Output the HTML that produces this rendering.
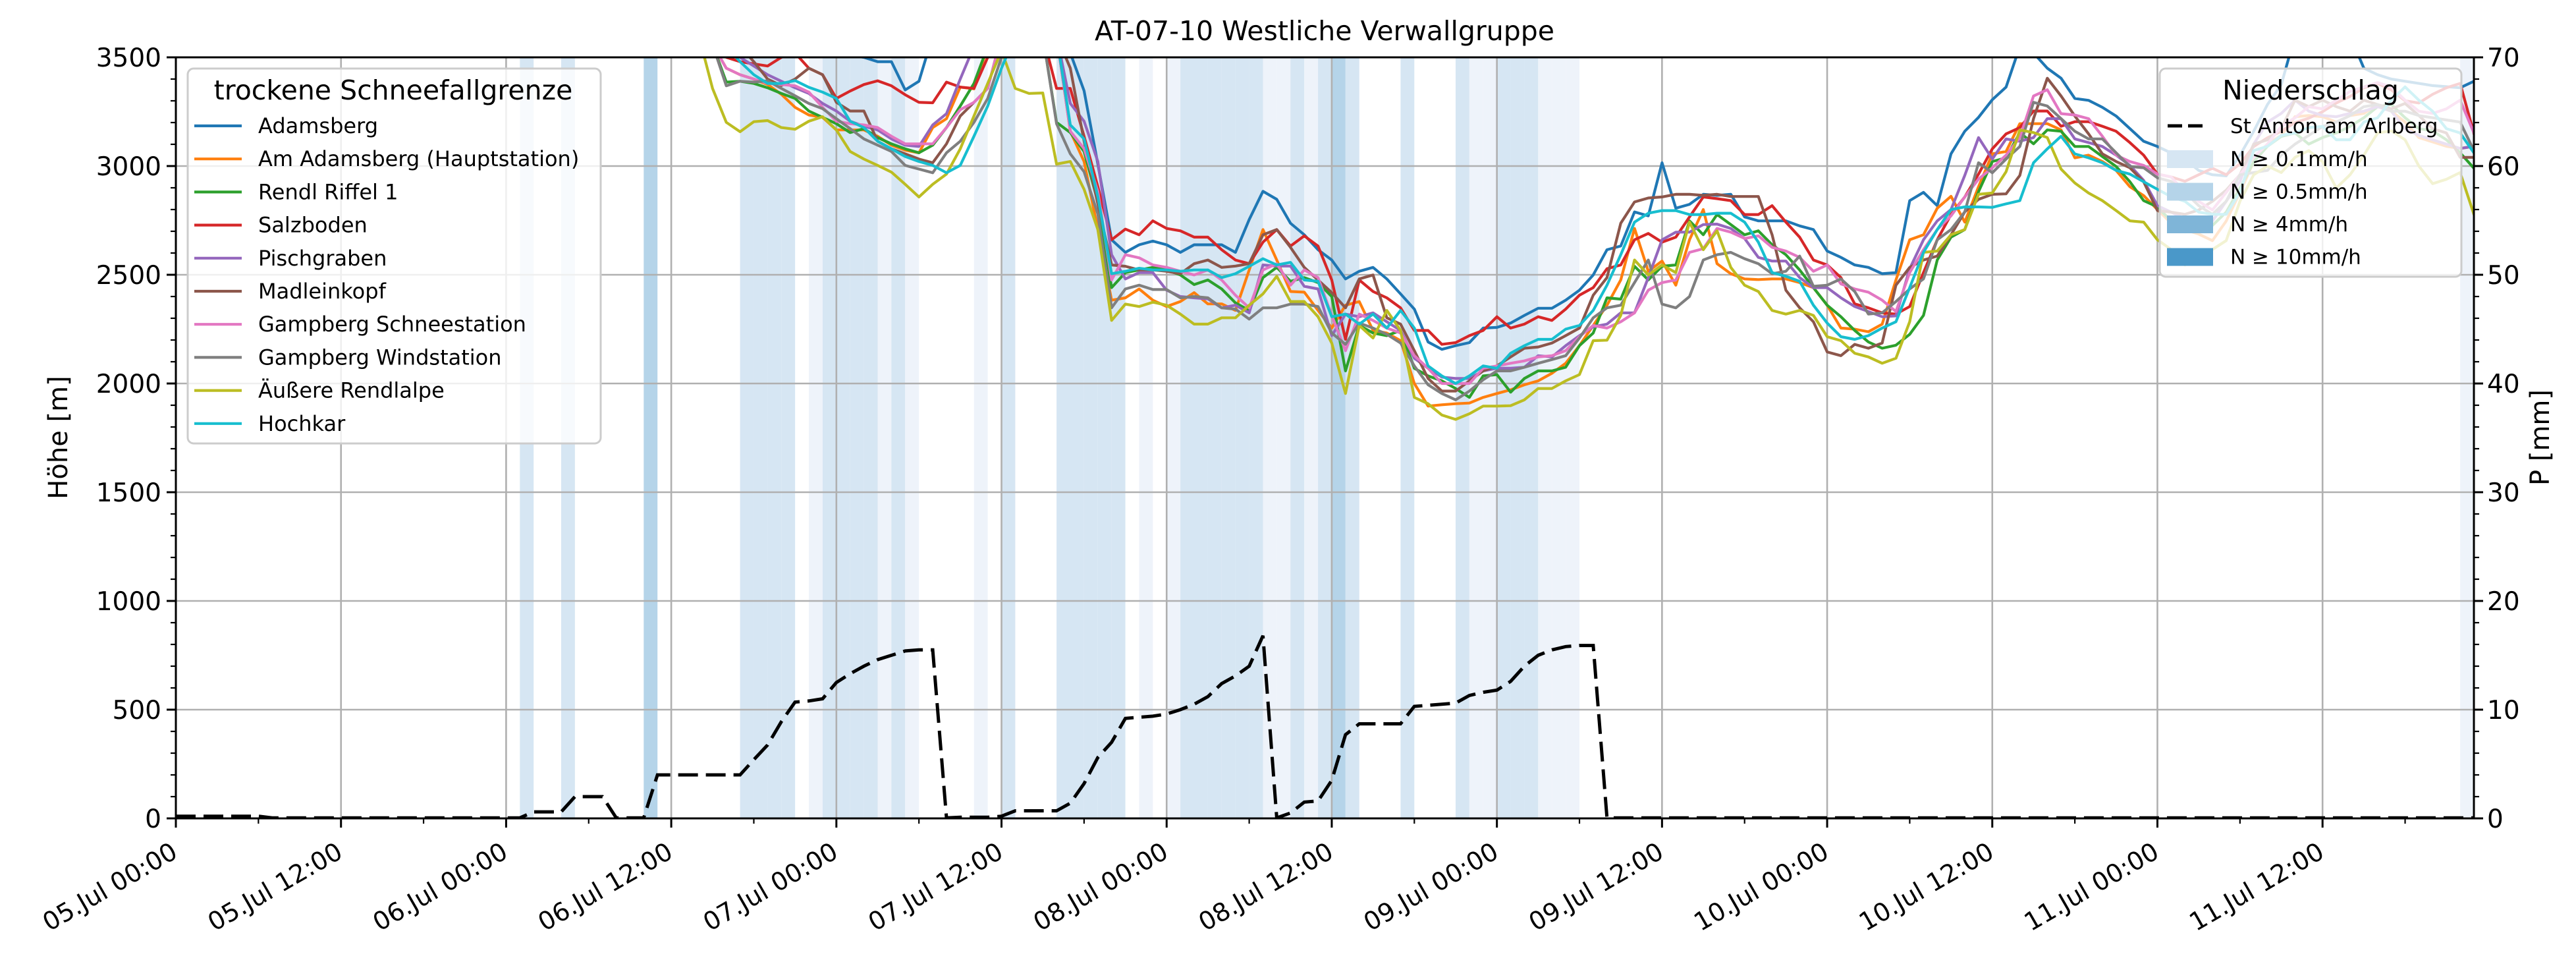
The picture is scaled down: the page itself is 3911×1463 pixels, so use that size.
<!DOCTYPE html>
<html><head><meta charset="utf-8"><style>
html,body{margin:0;padding:0;background:#fff;}
svg{display:block;font-family:"DejaVu Sans","Liberation Sans",sans-serif;}
</style></head><body>
<svg id="chart" width="3911" height="1463" viewBox="0 0 3911 1463" xmlns="http://www.w3.org/2000/svg">
<defs><clipPath id="plotclip"><rect x="267" y="87" width="3489" height="1155"/></clipPath></defs>
<rect width="3911" height="1463" fill="#fff"/>
<text x="2011" y="61" font-size="41" text-anchor="middle">AT-07-10 Westliche Verwallgruppe</text>
<g id="bands" clip-path="url(#plotclip)"></g>
<g id="grid"></g>
<g id="series" clip-path="url(#plotclip)"></g>
<g id="axes"></g>
<g id="legends"></g>
</svg>
<script>
const startHour = 36;
const xTickLabels = ["05.Jul 00:00","05.Jul 12:00","06.Jul 00:00","06.Jul 12:00","07.Jul 00:00","07.Jul 12:00","08.Jul 00:00","08.Jul 12:00","09.Jul 00:00","09.Jul 12:00","10.Jul 00:00","10.Jul 12:00","11.Jul 00:00","11.Jul 12:00"];
const yTicksLeft = [0,500,1000,1500,2000,2500,3000,3500];
const yTicksRight = [0,10,20,30,40,50,60,70];
const seriesNames = ["Adamsberg","Am Adamsberg (Hauptstation)","Rendl Riffel 1","Salzboden","Pischgraben","Madleinkopf","Gampberg Schneestation","Gampberg Windstation","Äußere Rendlalpe","Hochkar"];
const seriesColors = ["#1f77b4","#ff7f0e","#2ca02c","#d62728","#9467bd","#8c564b","#e377c2","#7f7f7f","#bcbd22","#17becf"];
const adamsberg = [3600,3600,3600,3600,
3600,3600,3550,3520,3600,3600,3600,3600,3550,3510,
3500,3480,3480,3350,3390,3600,3600,3600,3600,3600,
3600,3600,3600,3600,3600,3520,3346,3009,2661,2603,
2638,2655,2638,2603,2638,2638,2638,2603,2754,2884,
2847,2737,2684,2615,2568,2481,2516,2534,2481,2412,
2342,2191,2157,2174,2188,2255,2258,2278,2313,2346,
2346,2383,2429,2499,2615,2632,2789,2771,3015,2806,
2824,2870,2865,2870,2766,2748,2748,2748,2725,2708,
2609,2580,2545,2534,2505,2510,2841,2879,2818,3056,
3160,3224,3305,3363,3550,3520,3450,3404,3311,3302,
3270,3230,3172,3114,3090,3060,3030,2980,2960,2955,
3050,3160,3283,3374,3600,3600,3600,3600,3600,3450,
3420,3400,3390,3380,3370,3365,3360,3390];
const amAdamsberg = [3600,3600,3600,3560,
3450,3420,3400,3375,3330,3270,3235,3224,3166,3166,
3166,3137,3096,3073,3061,3177,3218,3363,3355,3550,
3600,3600,3600,3600,3600,3160,3021,2708,2383,2394,
2435,2383,2354,2377,2418,2366,2366,2336,2522,2708,
2568,2423,2420,2336,2255,2360,2377,2244,2232,2197,
2000,1896,1902,1907,1910,1936,1954,1971,1994,2012,
2047,2093,2174,2267,2360,2476,2713,2516,2563,2452,
2661,2800,2551,2505,2481,2478,2481,2481,2464,2441,
2360,2255,2250,2238,2273,2476,2661,2684,2806,2861,
2742,2905,3056,3067,3195,3195,3195,3166,3038,3050,
3021,2980,2905,2864,2800,2737,2707,2687,2657,2747,
2879,3020,3101,3141,3227,3232,3227,3202,3232,3242,
3283,3252,3202,3131,3111,3091,3081,3091];
const rendlRiffel = [3600,3600,3600,3560,
3386,3390,3380,3360,3334,3311,3253,3224,3195,3154,
3172,3131,3102,3079,3061,3096,3177,3276,3380,3550,
3600,3600,3600,3600,3201,3154,3067,2836,2441,2510,
2522,2534,2522,2499,2455,2476,2435,2371,2336,2487,
2534,2470,2487,2464,2400,2058,2267,2232,2220,2244,
2070,2035,2012,1977,1936,2035,2041,1960,2023,2058,
2058,2075,2174,2232,2394,2388,2539,2476,2539,2545,
2748,2684,2777,2731,2684,2702,2638,2592,2522,2441,
2360,2307,2244,2191,2162,2176,2226,2313,2568,2673,
2708,2882,3021,3038,3154,3102,3166,3160,3090,3090,
3044,2998,2928,2841,2812,2747,2697,2707,2727,2788,
2899,3020,3091,3136,3152,3101,3131,3152,3182,3222,
3273,3283,3222,3172,3162,3121,3061,2990];
const salzboden = [3600,3600,3600,3560,
3500,3480,3470,3460,3500,3520,3450,3420,3311,3345,
3375,3392,3369,3328,3293,3291,3386,3363,3357,3500,
3600,3600,3600,3600,3357,3357,3137,2905,2661,2710,
2684,2748,2713,2702,2673,2673,2615,2568,2551,2650,
2708,2632,2679,2632,2476,2203,2476,2423,2394,2348,
2244,2244,2180,2188,2220,2244,2307,2255,2273,2307,
2290,2342,2406,2441,2528,2545,2661,2690,2650,2673,
2766,2858,2850,2841,2777,2777,2818,2742,2673,2568,
2545,2487,2366,2348,2325,2319,2354,2510,2661,2777,
2858,2963,3079,3148,3177,3253,3253,3183,3204,3204,
3183,3160,3108,3050,2963,2950,2930,2960,2990,2960,
3010,3090,3130,3160,3200,3220,3250,3290,3320,3360,
3380,3350,3300,3290,3330,3360,3380,3150];
const pischgraben = [3600,3600,3600,3560,
3550,3500,3460,3420,3390,3360,3334,3288,3253,3206,
3183,3166,3125,3096,3090,3189,3241,3400,3550,3600,
3600,3600,3600,3600,3600,3288,3206,3021,2592,2481,
2510,2510,2429,2400,2394,2389,2348,2360,2325,2545,
2540,2540,2447,2435,2220,2319,2307,2325,2284,2244,
2116,2070,2029,2023,2023,2058,2070,2070,2075,2128,
2122,2174,2220,2261,2273,2325,2325,2487,2661,2696,
2696,2731,2733,2713,2667,2580,2563,2563,2487,2441,
2441,2394,2354,2331,2307,2311,2528,2661,2748,2800,
2957,3131,3032,3125,3114,3131,3218,3218,3125,3108,
3090,3050,3003,2934,2818,2788,2758,2747,2747,2838,
2929,3101,3202,3242,3303,3252,3232,3227,3242,3252,
3273,3252,3172,3141,3121,3101,3081,3091];
const madleinkopf = [3600,3600,3600,3600,
3600,3550,3480,3400,3370,3400,3450,3420,3293,3253,
3253,3114,3079,3056,3032,3015,3102,3230,3293,3357,
3600,3600,3600,3600,3600,3450,3114,2826,2545,2539,
2522,2522,2516,2505,2551,2568,2534,2540,2551,2684,
2708,2626,2534,2476,2418,2348,2481,2499,2302,2273,
2151,2023,1965,1965,2012,2058,2081,2122,2162,2168,
2186,2220,2255,2406,2487,2737,2835,2853,2858,2870,
2870,2865,2870,2860,2860,2860,2684,2429,2348,2284,
2145,2128,2180,2162,2186,2452,2534,2568,2586,2684,
2789,2847,2870,2872,2957,3218,3404,3322,3230,3148,
3056,3021,2992,2928,2795,2788,2778,2798,2838,2889,
2960,3101,3121,3172,3303,3273,3303,3273,3252,3303,
3283,3263,3288,3232,3172,3152,3040,3040];
const gampbergSchnee = [3600,3600,3600,3560,
3450,3420,3400,3380,3375,3369,3340,3270,3206,3195,
3189,3177,3137,3102,3102,3102,3177,3259,3293,3357,
3600,3600,3600,3600,3600,3160,3080,2883,2476,2592,
2578,2545,2534,2516,2499,2522,2476,2406,2348,2522,
2551,2452,2522,2487,2313,2151,2319,2290,2255,2232,
2128,2070,2000,2000,2000,2070,2081,2093,2104,2122,
2128,2151,2215,2267,2255,2284,2325,2429,2464,2476,
2603,2620,2713,2696,2667,2679,2626,2609,2580,2516,
2545,2458,2435,2420,2383,2331,2510,2615,2708,2771,
2858,2940,2992,3050,3131,3322,3351,3241,3235,3218,
3137,3050,3021,3003,2963,2950,2879,2838,2798,2879,
2960,3040,3101,3182,3222,3273,3263,3303,3343,3364,
3384,3364,3303,3252,3242,3263,3303,3152];
const gampbergWind = [3600,3600,3600,3560,
3369,3390,3386,3392,3357,3323,3288,3264,3218,3172,
3125,3096,3067,3003,2986,2969,3061,3114,3201,3311,
3500,3600,3600,3600,3195,3056,2974,2779,2348,2435,
2452,2432,2432,2394,2400,2394,2348,2342,2296,2348,
2348,2365,2365,2354,2232,2180,2278,2255,2226,2186,
2081,1994,1954,1925,1965,2017,2058,2058,2075,2093,
2110,2128,2209,2302,2348,2360,2464,2568,2365,2348,
2400,2568,2592,2603,2574,2551,2505,2516,2586,2447,
2452,2481,2423,2319,2325,2377,2435,2481,2661,2708,
2789,3015,2969,3032,3090,3293,3276,3218,3160,3125,
3125,3061,2998,2992,2946,2929,2879,2818,2778,2838,
2960,2970,2980,3050,3101,3141,3182,3202,3232,3273,
3283,3252,3252,3232,3222,3212,3202,3071];
const aeussereRendlalpe = [3600,3600,3600,3357,
3201,3158,3204,3209,3177,3169,3206,3227,3166,3067,
3032,3003,2972,2916,2858,2916,2963,3079,3230,3380,
3530,3357,3334,3336,3009,3021,2893,2708,2290,2365,
2354,2374,2360,2319,2273,2273,2302,2302,2360,2412,
2493,2377,2377,2307,2186,1954,2267,2209,2336,2244,
1936,1907,1855,1835,1861,1896,1896,1898,1925,1977,
1977,2012,2041,2197,2199,2313,2568,2499,2545,2510,
2742,2615,2702,2534,2452,2423,2336,2319,2336,2313,
2215,2197,2139,2122,2093,2116,2284,2603,2609,2684,
2708,2870,2876,2974,3166,3154,3131,2986,2922,2876,
2841,2795,2748,2742,2661,2616,2545,2576,2616,2657,
2838,2960,3000,2970,3040,3071,3020,2899,2960,3050,
3152,3162,3121,3000,2919,2939,2970,2778];
const hochkar = [3600,3600,3600,3600,
3550,3480,3420,3380,3380,3393,3362,3340,3311,3206,
3177,3114,3079,3044,3021,3003,2969,3003,3137,3276,
3450,3600,3600,3600,3600,3189,3125,2859,2505,2516,
2530,2522,2522,2516,2522,2522,2487,2505,2539,2574,
2545,2557,2476,2470,2307,2319,2273,2319,2255,2336,
2255,2081,2035,2000,2035,2081,2070,2139,2174,2203,
2203,2250,2267,2336,2452,2592,2742,2783,2795,2795,
2777,2777,2783,2783,2742,2650,2510,2493,2470,2360,
2278,2215,2203,2220,2255,2284,2441,2603,2708,2800,
2812,2812,2810,2826,2841,3015,3079,3137,3056,3038,
3015,2980,2963,2928,2893,2859,2838,2788,2778,2778,
2879,3071,3091,3141,3152,3177,3182,3121,3121,3202,
3222,3303,3364,3303,3252,3172,3152,3061];
const precipStAnton = [
0.2,0.2,0.2,0.2,0.2,0.2,0.2,0.05,0.05,0.05,
0.05,0.05,0.05,0.05,0.05,0.05,0.05,0.05,0.05,0.05,
0.05,0.05,0.05,0.05,0.05,0.05,0.6,0.6,0.6,2.0,
2.0,2.0,0.05,0.05,0.05,4.0,4.0,4.0,4.0,4.0,
4.0,4.0,5.4,6.75,8.9,10.7,10.8,11.0,12.5,13.3,
14.0,14.6,15.0,15.4,15.5,15.5,0.05,0.1,0.1,0.1,
0.2,0.7,0.7,0.7,0.7,1.4,3.2,5.6,7.0,9.2,
9.3,9.4,9.6,10.0,10.5,11.2,12.4,13.1,14.0,16.8,
0.05,0.5,1.5,1.6,3.5,7.7,8.7,8.7,8.7,8.7,
10.3,10.4,10.5,10.6,11.3,11.6,11.8,12.6,14.0,15.0,
15.5,15.8,15.9,15.9,0.05,0.05,0.05,0.05,0.05,0.05,
0.05,0.05,0.05,0.05,0.05,0.05,0.05,0.05,0.05,0.05,
0.05,0.05,0.05,0.05,0.05,0.05,0.05,0.05,0.05,0.05,
0.05,0.05,0.05,0.05,0.05,0.05,0.05,0.05,0.05,0.05,
0.05,0.05,0.05,0.05,0.05,0.05,0.05,0.05,0.05,0.05,
0.05,0.05,0.05,0.05,0.05,0.05,0.05,0.05,0.05,0.05,
0.05,0.05,0.05,0.05,0.05,0.05,0.05,0.05];
const rainClass = [
0,0,0,0,0,0,0,0,0,0,
0,0,0,0,0,0,0,0,0,0,
0,0,0,0,0,2,0,0,2,0,
0,0,0,0,3,0,0,0,0,0,
0,2,2,2,2,0,1,2,2,2,
2,1,2,1,0,0,0,0,1,0,
2,0,0,0,2,2,2,2,2,0,
1,0,1,2,2,2,2,2,2,1,
1,2,1,2,3,2,0,0,0,2,
0,0,0,2,1,1,2,2,2,1,
1,1,0,0,0,0,0,0,0,0,
0,0,0,0,0,0,0,0,0,0,
0,0,0,0,0,0,0,0,0,0,
0,0,0,0,0,0,0,0,0,0,
0,0,0,0,0,0,0,0,0,0,
0,0,0,0,0,0,0,0,0,0,
0,0,0,0,0,0,1,1];
const precipLegendLabels = ["N ≥ 0.1mm/h","N ≥ 0.5mm/h","N ≥ 4mm/h","N ≥ 10mm/h"];

const allSeries = [adamsberg,amAdamsberg,rendlRiffel,salzboden,pischgraben,madleinkopf,gampbergSchnee,gampbergWind,aeussereRendlalpe,hochkar];
const bandColors = ["none","#eef3fa","#d6e6f3","#b5d4e9","#7fb5d8","#4a98c9"];
const NS = "http://www.w3.org/2000/svg";
const X0 = 267, X1 = 3756, Y0 = 1242, Y1 = 87, HMAX = 167;
function xScale(h){ return X0 + h*(X1-X0)/HMAX; }
function yScale(m){ return Y0 - m*(Y0-Y1)/3500; }
function pScale(p){ return Y0 - p*(Y0-Y1)/70; }
function el(tag, attrs, parent){ const e=document.createElementNS(NS,tag); for(const k in attrs) e.setAttribute(k,attrs[k]); parent.appendChild(e); return e; }

const gB = document.getElementById('bands');
rainClass.forEach((c,h)=>{
  if(!c) return;
  const r = el('rect',{x:xScale(h),y:Y1,width:xScale(h+1)-xScale(h),height:Y0-Y1,fill:bandColors[c]},gB);
  
  
});
const gG = document.getElementById('grid');
xTickLabels.forEach((t,i)=>{ const x=xScale(i*12); const l=el('line',{x1:x,x2:x,y1:Y1,y2:Y0,stroke:'#b0b0b0','stroke-width':2.6},gG);
    });
yTicksLeft.forEach(v=>{ const y=yScale(v); const l=el('line',{x1:X0,x2:X1,y1:y,y2:y,stroke:'#b0b0b0','stroke-width':2.6},gG);
    });
const gS = document.getElementById('series');
allSeries.forEach((arr,i)=>{
  const pts = arr.map((v,j)=>xScale(startHour+j).toFixed(1)+','+yScale(v).toFixed(1)).join(' ');
  const p = el('polyline',{points:pts,fill:'none',stroke:seriesColors[i],'stroke-width':4.2,'stroke-linejoin':'round','stroke-linecap':'square'},gS);
  
  
});
const ppts = precipStAnton.map((v,h)=>xScale(h).toFixed(1)+','+pScale(v).toFixed(1)).join(' ');
const pl = el('polyline',{points:ppts,fill:'none',stroke:'#000','stroke-width':5,'stroke-dasharray':'30 12'},gS);


const gA = document.getElementById('axes');
el('rect',{x:X0,y:Y1,width:X1-X0,height:Y0-Y1,fill:'none',stroke:'#000','stroke-width':3},gA);
for(let m=0;m<=3500;m+=100){ const y=yScale(m); const major=m%500===0;
  el('line',{x1:X0-(major?14:8),x2:X0,y1:y,y2:y,stroke:'#000','stroke-width':major?3:2.2},gA); }
yTicksLeft.forEach(v=>{ const t=el('text',{x:X0-22,y:yScale(v)+14,'font-size':39,'text-anchor':'end'},gA); t.textContent=v;
    });
for(let p=0;p<=70;p+=2){ const y=pScale(p); const major=p%10===0;
  el('line',{x1:X1,x2:X1+(major?14:8),y1:y,y2:y,stroke:'#000','stroke-width':major?3:2.2},gA); }
yTicksRight.forEach(v=>{ const t=el('text',{x:X1+20,y:pScale(v)+14,'font-size':39,'text-anchor':'start'},gA); t.textContent=v;
    });
for(let h=0;h<=HMAX;h+=6){ const x=xScale(h); const major=h%12===0;
  el('line',{x1:x,x2:x,y1:Y0,y2:Y0+(major?14:8),stroke:'#000','stroke-width':major?3:2.2},gA); }
xTickLabels.forEach((s,i)=>{ const x=xScale(i*12)+5, y=1300;
  const t=el('text',{x:x,y:y,'font-size':38,'text-anchor':'end',transform:'rotate(-30 '+x+' '+y+')'},gA); t.textContent=s;
    });
const yl=el('text',{x:102,y:664,'font-size':40,'text-anchor':'middle',transform:'rotate(-90 102 664)'},gA); yl.textContent='Höhe [m]';
 
const yr=el('text',{x:3870,y:664,'font-size':40,'text-anchor':'middle',transform:'rotate(-90 3870 664)'},gA); yr.textContent='P [mm]';
 
const gL = document.getElementById('legends');
const L1 = el('g',{},gL);
 
el('rect',{x:285,y:104,width:627,height:569,rx:9,fill:'#fff','fill-opacity':0.8,stroke:'#cccccc','stroke-width':3},L1);
const t1=el('text',{x:597,y:151,'font-size':41,'text-anchor':'middle'},L1); t1.textContent='trockene Schneefallgrenze';
seriesNames.forEach((n,i)=>{ const y=191+i*50.2;
  const g=el('g',{},L1);
   
  el('line',{x1:295,x2:367,y1:y,y2:y,stroke:seriesColors[i],'stroke-width':4.2},g);
  const t=el('text',{x:392,y:y+11,'font-size':32},g); t.textContent=n; });
const L2 = el('g',{},gL);
 
el('rect',{x:3279,y:104,width:458,height:316,rx:9,fill:'#fff','fill-opacity':0.8,stroke:'#cccccc','stroke-width':3},L2);
const t2=el('text',{x:3508,y:151,'font-size':41,'text-anchor':'middle'},L2); t2.textContent='Niederschlag';
const ge=el('g',{},L2);  
el('line',{x1:3291,x2:3351,y1:191,y2:191,stroke:'#000','stroke-width':5,'stroke-dasharray':'22 9'},ge);
const ts=el('text',{x:3386,y:202,'font-size':31},ge); ts.textContent='St Anton am Arlberg';
precipLegendLabels.forEach((s,i)=>{ const y=241+i*49.5;
  const g=el('g',{},L2);  
  el('rect',{x:3290,y:y-13,width:70,height:27,fill:bandColors[i+2]},g);
  const t=el('text',{x:3386,y:y+11,'font-size':31},g); t.textContent=s; });
</script>
</body></html>
